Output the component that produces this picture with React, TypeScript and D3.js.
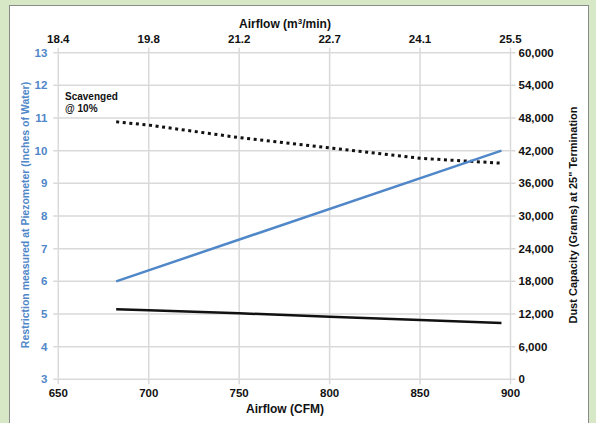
import React from "react";
import * as d3 from "d3";

const W = 596;
const H = 423;

const cfmTicks = [650, 700, 750, 800, 850, 900];
const m3Labels = ["18.4", "19.8", "21.2", "22.7", "24.1", "25.5"];
const leftTicks = [3, 4, 5, 6, 7, 8, 9, 10, 11, 12, 13];
const rightTicks = [0, 6000, 12000, 18000, 24000, 30000, 36000, 42000, 48000, 54000, 60000];

// Restriction (left axis)
const restrictionCfm = [682, 895];
const restrictionVals = [6.0, 10.0];

// Dust capacity scavenged @10% (right axis, dotted)
const scavCfm = [682, 700, 750, 800, 850, 895];
const scavVals = [47300, 46700, 44400, 42500, 40600, 39700];

// Dust capacity (right axis, solid)
const dustCfm = [682, 700, 750, 800, 850, 895];
const dustVals = [12860, 12680, 12130, 11500, 10900, 10350];

const FONT = "'Liberation Sans', Arial, sans-serif";
const BLUE = "#5087c8";

export default function App() {
  const left = 58.3, right = 510.5, top = 52.7, bottom = 379.3;
  const x = d3.scaleLinear().domain([650, 900]).range([left, right]);
  const yL = d3.scaleLinear().domain([3, 13]).range([bottom, top]);
  const yR = d3.scaleLinear().domain([0, 60000]).range([bottom, top]);

  const lineL = d3.line<number>().x((_, i) => x(restrictionCfm[i])).y((d) => yL(d));
  const lineScav = d3.line<number>().x((_, i) => x(scavCfm[i])).y((d) => yR(d));
  const lineDust = d3.line<number>().x((_, i) => x(dustCfm[i])).y((d) => yR(d));
  const fmt = d3.format(",");

  return (
    <svg width={W} height={H} style={{ position: "absolute", left: 0, top: 0 }} fontFamily={FONT}>
      <rect x={0} y={0} width={W} height={H} fill="#d6e8c6" />
      <rect x={9.5} y={5.5} width={579} height={430} fill="#ffffff" stroke="#8a8a8a" strokeWidth={1} />

      {/* horizontal grid */}
      {leftTicks.map((t) => (
        <line key={"h" + t} x1={left - 5} x2={right + 5} y1={yL(t)} y2={yL(t)} stroke="#d9d9d9" strokeWidth={1.5} />
      ))}
      {/* vertical grid */}
      {cfmTicks.map((t) => (
        <line key={"v" + t} x1={x(t)} x2={x(t)} y1={top - 5} y2={bottom + 5} stroke="#d9d9d9" strokeWidth={1.5} />
      ))}

      {/* left tick labels */}
      {leftTicks.map((t) => (
        <text key={"l" + t} x={left - 11} y={yL(t) + 4} textAnchor="end" fontSize={11.5} fontWeight="bold" fill={BLUE}>
          {t}
        </text>
      ))}
      {/* right tick labels */}
      {rightTicks.map((t) => (
        <text key={"r" + t} x={right + 8} y={yR(t) + 4} textAnchor="start" fontSize={11.5} fontWeight="bold" fill="#111">
          {fmt(t)}
        </text>
      ))}
      {/* bottom tick labels */}
      {cfmTicks.map((t) => (
        <text key={"b" + t} x={x(t)} y={bottom + 18} textAnchor="middle" fontSize={11.5} fontWeight="bold" fill="#111">
          {t}
        </text>
      ))}
      {/* top tick labels */}
      {cfmTicks.map((t, i) => (
        <text key={"t" + t} x={x(t)} y={top - 10} textAnchor="middle" fontSize={11.5} fontWeight="bold" fill="#111">
          {m3Labels[i]}
        </text>
      ))}

      {/* axis titles */}
      <text x={285} y={28} textAnchor="middle" fontSize={12} fontWeight="bold" fill="#111">
        Airflow (m<tspan dy={-4} fontSize={8}>3</tspan><tspan dy={4}>/min)</tspan>
      </text>
      <text x={285} y={413} textAnchor="middle" fontSize={12} fontWeight="bold" fill="#111">
        Airflow (CFM)
      </text>
      <text transform={`translate(29,215) rotate(-90)`} textAnchor="middle" fontSize={10.5} fontWeight="bold" fill={BLUE}>
        Restriction measured at Piezometer (Inches of Water)
      </text>
      <text transform={`translate(577,215) rotate(-90)`} textAnchor="middle" fontSize={11} fontWeight="bold" fill="#111">
        Dust Capacity (Grams) at 25" Termination
      </text>

      <text x={65} y={100} fontSize={10} fontWeight="bold" fill="#111">Scavenged</text>
      <text x={65} y={112} fontSize={10} fontWeight="bold" fill="#111">@ 10%</text>

      {/* series */}
      <path d={lineDust(dustVals) || ""} fill="none" stroke="#111" strokeWidth={2.5} />
      <path d={lineScav(scavVals) || ""} fill="none" stroke="#111" strokeWidth={3} strokeDasharray="3,3.6" />
      <path d={lineL(restrictionVals) || ""} fill="none" stroke={BLUE} strokeWidth={2.5} />
    </svg>
  );
}
